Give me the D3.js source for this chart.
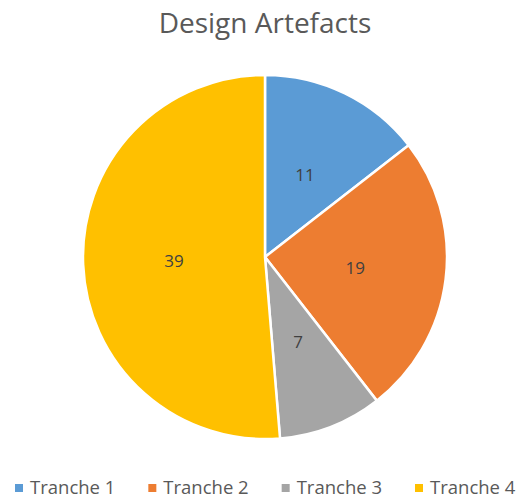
<!DOCTYPE html>
<html>
<head>
<meta charset="utf-8">
<script src="https://cdn.jsdelivr.net/npm/d3@7"></script>
<style>
  body { margin: 0; background: #fff; }
  text { font-family: "Open Sans", "Liberation Sans", sans-serif; }
</style>
</head>
<body>
<div class="chart"></div>
<script>
var categories = ["Tranche 1", "Tranche 2", "Tranche 3", "Tranche 4"];
var values = [11, 19, 7, 39];
var colors = ["#5B9BD5", "#ED7D31", "#A5A5A5", "#FFC000"];
var chartTitle = "Design Artefacts";

var width = 528, height = 499;
var cx = 265, cy = 257, radius = 182;

var svg = d3.select(".chart").append("svg")
  .attr("width", width)
  .attr("height", height);

svg.append("text")
  .attr("x", cx)
  .attr("y", 33)
  .attr("text-anchor", "middle")
  .attr("font-size", 28)
  .attr("fill", "#595959")
  .text(chartTitle);

var pie = d3.pie().sort(null).value(function(d) { return d; });
var arcs = pie(values);
var arc = d3.arc().innerRadius(0).outerRadius(radius);
var labelArc = d3.arc().innerRadius(radius * 0.5).outerRadius(radius * 0.5);

var g = svg.append("g").attr("transform", "translate(" + cx + "," + cy + ")");

g.selectAll("path")
  .data(arcs)
  .enter()
  .append("path")
  .attr("d", arc)
  .attr("fill", function(d, i) { return colors[i]; })
  .attr("stroke", "#fff")
  .attr("stroke-width", 2.5);

g.selectAll("text.lbl")
  .data(arcs)
  .enter()
  .append("text")
  .attr("class", "lbl")
  .attr("transform", function(d) { return "translate(" + labelArc.centroid(d) + ")"; })
  .attr("text-anchor", "middle")
  .attr("dy", "0.35em")
  .attr("font-size", 17)
  .attr("fill", "#404040")
  .text(function(d) { return d.data; });

// legend
var legendX = d3.scalePoint().domain(categories).range([15, 415]);
var legend = svg.append("g").selectAll("g")
  .data(categories)
  .enter()
  .append("g")
  .attr("transform", function(d) { return "translate(" + legendX(d) + ",488)"; });

legend.append("rect")
  .attr("x", 0).attr("y", -4)
  .attr("width", 8).attr("height", 8)
  .attr("fill", function(d, i) { return colors[i]; });

legend.append("text")
  .attr("x", 15)
  .attr("dy", "0.35em")
  .attr("font-size", 18.5)
  .attr("fill", "#595959")
  .text(function(d) { return d; });
</script>
</body>
</html>
